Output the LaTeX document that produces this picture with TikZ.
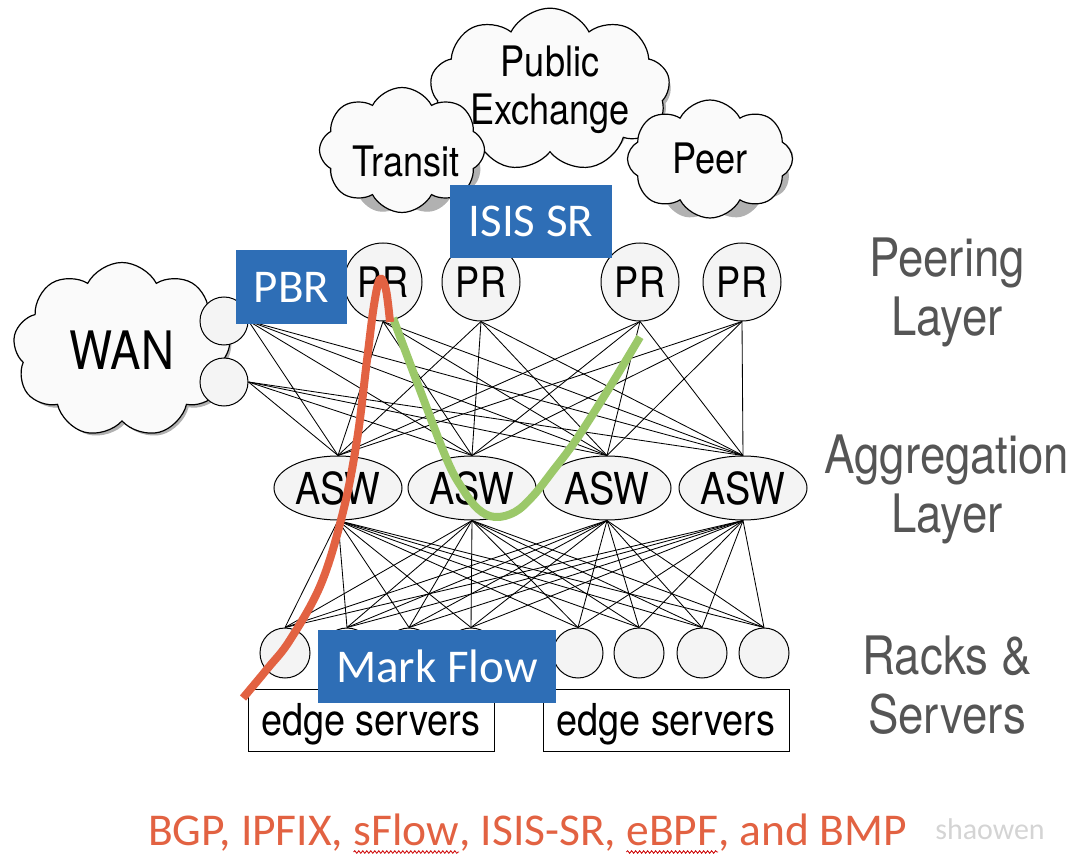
\documentclass[tikz,border=0pt]{standalone}
\usepackage{fontspec}
\setmainfont{TeX Gyre Heros}[FakeStretch=0.86]
\newfontfamily\calib{Carlito}
\usetikzlibrary{shapes.symbols,shapes.geometric,decorations.pathmorphing}
\definecolor{boxblue}{RGB}{46,110,182}
\definecolor{flowred}{RGB}{226,98,66}
\definecolor{flowgreen}{RGB}{155,200,105}
\definecolor{nodefill}{RGB}{244,244,244}
\definecolor{labgray}{RGB}{85,85,85}
\definecolor{cloudfill}{RGB}{250,250,250}
\begin{document}
\begin{tikzpicture}[x=1pt,y=-1pt,
  cloudbase/.style={cloud, cloud puffs=9, cloud puff arc=125, cloud ignores aspect, inner sep=0pt},
  cloudst/.style={cloudbase, draw=black, line width=1.2pt, fill=cloudfill, align=center, font=\fontsize{42}{48}\selectfont},
  cloudshadow/.style={cloudbase, fill=black, fill opacity=0.06},
  cloudtext/.style={inner sep=0pt, font=\fontsize{42}{48}\selectfont},
  netnode/.style={draw=black, line width=1pt, fill=nodefill, inner sep=0pt},
  prnode/.style={netnode, circle, minimum size=78pt, font=\fontsize{42}{46}\selectfont},
  aswnode/.style={netnode, ellipse, minimum width=128pt, minimum height=64pt, font=\fontsize{44}{48}\selectfont},
  racknode/.style={netnode, circle, minimum size=50pt},
  wannode/.style={netnode, circle, minimum size=48pt},
  edge/.style={draw=black, line width=0.85pt},
  serverbox/.style={draw=black, line width=1pt, fill=white, minimum width=246pt, minimum height=62pt, inner sep=0pt, text depth=2pt, font=\fontsize{44}{48}\selectfont},
  bluebox/.style={fill=boxblue, text=white, inner sep=0pt, font=\calib\fontsize{47}{52}\selectfont},
  layerlabel/.style={text=labgray, align=center, font=\fontsize{53}{59}\selectfont},
  flowline/.style={line width=8pt, line join=round},
  foot/.style={text=flowred, inner sep=0pt, outer sep=0pt, font=\calib\fontsize{45.5}{52}\selectfont},
  squiggle/.style={draw=red!80!black, line width=0.8pt, decorate, decoration={snake, amplitude=1.3pt, segment length=4pt}},
]
\useasboundingbox (0,0) rectangle (1080,861);

% ---- clouds (shadows first) ----
\foreach \k in {1,...,6} {
  \node[cloudshadow, minimum width={236+3*\k}, minimum height={146+3*\k}] at (553,94) {};
  \node[cloudshadow, minimum width={161+3*\k}, minimum height={121+3*\k}] at (405,154) {};
  \node[cloudshadow, minimum width={161+3*\k}, minimum height={114+3*\k}] at (713,163) {};
  \node[cloudshadow, minimum width={214+3*\k}, minimum height={171+3*\k}] at (125,354) {};
}
\node[cloudst, minimum width=240pt, minimum height=150pt] (pubx) at (550,90) {Public\\Exchange};
\node[cloudst, minimum width=165pt, minimum height=125pt, cloud puffs=8] (transit) at (402,150) {};
\node[cloudtext] (transittext) at (406,162) {Transit};
\node[cloudst, minimum width=165pt, minimum height=118pt, cloud puffs=8] (peer) at (710,159) {Peer};
\node[cloudst, minimum width=218pt, minimum height=175pt, font=\fontsize{53}{56}\selectfont] (wan) at (122,350) {WAN};

% ---- WAN ports ----
\node[wannode] (W1) at (224,321) {};
\node[wannode] (W2) at (224,382) {};

% ---- peering routers ----
\node[prnode] (PR1) at (383,282) {PR};
\node[prnode] (PR2) at (481,282) {PR};
\node[prnode] (PR3) at (640,282) {PR};
\node[prnode] (PR4) at (742,282) {PR};

% ---- aggregation switches ----
\node[aswnode] (A1) at (338,488) {ASW};
\node[aswnode] (A2) at (472,488) {ASW};
\node[aswnode] (A3) at (607,488) {ASW};
\node[aswnode] (A4) at (743,488) {ASW};

% ---- racks ----
\node[racknode] (R1) at (285,653) {};
\node[racknode] (R2) at (347,653) {};
\node[racknode] (R3) at (409,653) {};
\node[racknode] (R4) at (471,653) {};
\node[racknode] (R5) at (578,653) {};
\node[racknode] (R6) at (639,653) {};
\node[racknode] (R7) at (702,653) {};
\node[racknode] (R8) at (764,653) {};

% ---- links ----
\foreach \p in {1,...,4}
  \foreach \a in {1,...,4}
    \draw[edge] (PR\p.south) -- (A\a.north);
\foreach \w in {1,2}
  \foreach \a in {1,...,4}
    \draw[edge] (W\w.east) -- (A\a.north);
\foreach \a in {1,...,4}
  \foreach \r in {1,...,8}
    \draw[edge] (A\a.south) -- (R\r.north);

% ---- server boxes ----
\node[serverbox] (S1) at (371,720) {edge servers};
\node[serverbox] (S2) at (666,720.5) {edge servers};

% ---- flow paths ----
\draw[flowline, draw=flowgreen] plot[smooth, tension=0.6] coordinates {
  (393,318) (420,390) (447,460) (462,488) (478,509) (495,517) (515,512) (533,496) (552,472) (576,440) (608,390) (640,337)};
\draw[flowline, draw=flowred] plot[smooth, tension=0.6] coordinates {
  (243,698) (268,668) (290,640) (321,584) (343,512) (357,440) (367,360) (374,305) (380,279) (386,290) (390,322)};

% ---- blue labels ----
\node[bluebox, minimum width=111pt, minimum height=74pt] (pbr) at (291.5,287) {PBR};
\node[bluebox, minimum width=162pt, minimum height=73pt] (isis) at (531,221.5) {ISIS SR};
\node[bluebox, minimum width=238pt, minimum height=73pt] (mark) at (437,666.5) {Mark Flow};

% ---- layer labels ----
\node[layerlabel] (lpeer) at (947,292) {Peering\\Layer};
\node[layerlabel] (lagg) at (947,489) {Aggregation\\Layer};
\node[layerlabel] (lrack) at (947,685) {Racks \&\\Servers};

% ---- footer ----
\node[foot, anchor=base west] (f1) at (148,845) {BGP, IPFIX,\hbox{\ }};
\node[foot, anchor=base west] (f2) at (f1.base east) {sFlow};
\node[foot, anchor=base west] (f3) at (f2.base east) {, ISIS-SR,\hbox{\ }};
\node[foot, anchor=base west] (f4) at (f3.base east) {eBPF};
\node[foot, anchor=base west] (f5) at (f4.base east) {, and BMP};
\draw[squiggle] ([yshift=-7pt]f2.base west) -- ([yshift=-7pt]f2.base east);
\draw[squiggle] ([yshift=-7pt]f4.base west) -- ([yshift=-7pt]f4.base east);
\node[text=black!17, font=\calib\fontsize{30}{36}\selectfont] (wm) at (990,829) {shaowen};
\end{tikzpicture}
\end{document}
